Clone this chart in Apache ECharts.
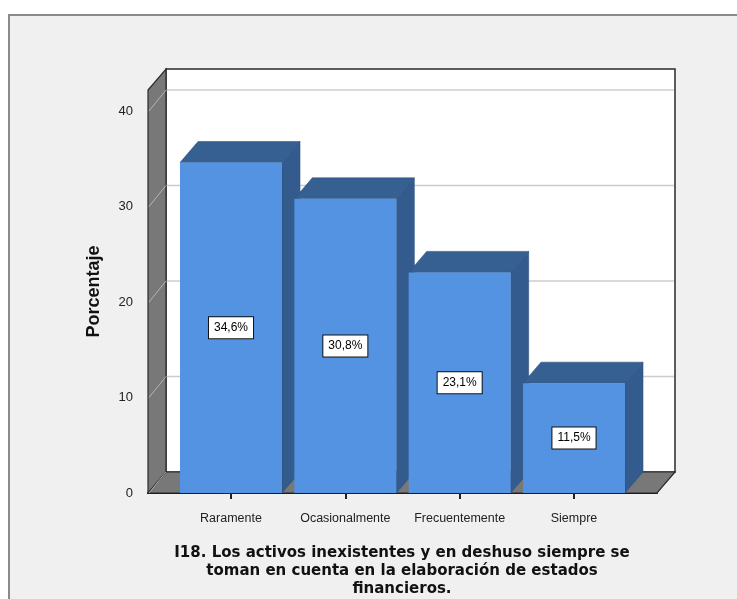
<!DOCTYPE html>
<html>
<head>
<meta charset="utf-8">
<script src="https://cdn.jsdelivr.net/npm/echarts@6/dist/echarts.min.js"></script>
<style>
  html, body { margin: 0; padding: 0; background: #ffffff; }
  #chart { width: 737px; height: 599px; }
</style>
</head>
<body>
<div id="chart"></div>
<script>
// Chart content
const categories = ['Raramente', 'Ocasionalmente', 'Frecuentemente', 'Siempre'];
const percentages = [34.6, 30.8, 23.1, 11.5];
const yTicks = [0, 10, 20, 30, 40];
const yName = 'Porcentaje';
const titleText = 'I18. Los activos inexistentes y en deshuso siempre se\ntoman en cuenta en la elaboración de estados\nfinancieros.';

// Layout / style constants
const X_MIN = -0.726, X_MAX = 3.726, Y_MAX = 42.2;
const DEPTH = [18, -21];          // oblique depth offset in pixels
const BAR_HALF = 0.446;           // half bar width in category units
const FRONT = '#5393e2', TOP = '#365f92', SIDE = '#335b8d';
const WALL = '#787878';
const SANS = '"Liberation Sans", Arial, sans-serif';

const shift = pt => [pt[0] + DEPTH[0], pt[1] + DEPTH[1]];
const fmt = v => v.toFixed(1).replace('.', ',') + '%';

function renderFrame(params, api) {
  const p = (x, y) => api.coord([x, y]);
  const fl = p(X_MIN, 0), fr = p(X_MAX, 0), tl = p(X_MIN, Y_MAX);
  const btl = shift(tl), bbr = shift(fr);
  const children = [];
  // back wall
  children.push({ type: 'rect',
    shape: { x: btl[0], y: btl[1], width: bbr[0] - btl[0], height: bbr[1] - btl[1] },
    style: { fill: '#ffffff', stroke: '#2a2a2a', lineWidth: 1.5 } });
  // grid lines on the back wall
  yTicks.filter(v => v > 0).forEach(v => {
    const a = shift(p(X_MIN, v)), b = shift(p(X_MAX, v));
    children.push({ type: 'line', shape: { x1: a[0], y1: a[1], x2: b[0] - 1, y2: b[1] },
      style: { stroke: '#cccccc', lineWidth: 1.5 } });
  });
  // floor
  children.push({ type: 'polygon', shape: { points: [fl, fr, shift(fr), shift(fl)] },
    style: { fill: WALL, stroke: '#2a2a2a', lineWidth: 1.2 } });
  // left wall
  children.push({ type: 'polygon', shape: { points: [fl, tl, shift(tl), shift(fl)] },
    style: { fill: WALL, stroke: '#2a2a2a', lineWidth: 1.2 } });
  // tick diagonals across the left wall
  yTicks.forEach(v => {
    const a = p(X_MIN, v), b = shift(a);
    children.push({ type: 'line', shape: { x1: a[0] + 1, y1: a[1], x2: b[0], y2: b[1] },
      style: { stroke: '#b4b4b4', lineWidth: 1 } });
  });
  return { type: 'group', children };
}

function renderBar(params, api) {
  const i = api.value(0), v = api.value(1);
  const bl = api.coord([i - BAR_HALF, 0]);
  const tr = api.coord([i + BAR_HALF, v]);
  const tl = [bl[0], tr[1]], br = [tr[0], bl[1]];
  const cx = (bl[0] + tr[0]) / 2, cy = (bl[1] + tr[1]) / 2;
  return { type: 'group', children: [
    { type: 'polygon', shape: { points: [br, tr, shift(tr), shift(br)] },
      style: { fill: SIDE, stroke: '#2d5282', lineWidth: 0.6 } },
    { type: 'polygon', shape: { points: [tl, tr, shift(tr), shift(tl)] },
      style: { fill: TOP, stroke: '#2d5282', lineWidth: 0.6 } },
    { type: 'rect', shape: { x: bl[0], y: tr[1], width: tr[0] - bl[0], height: bl[1] - tr[1] },
      style: { fill: FRONT } },
    { type: 'text', x: cx, y: cy,
      style: { text: fmt(v), fill: '#000', font: '12px ' + SANS,
        align: 'center', verticalAlign: 'middle', backgroundColor: '#ffffff',
        borderColor: '#111', borderWidth: 1, padding: [4, 5], lineHeight: 13 } }
  ] };
}

const chart = echarts.init(document.getElementById('chart'), null, { renderer: 'canvas' });
chart.setOption({
  animation: false,
  backgroundColor: '#ffffff',
  graphic: [{
    type: 'rect', z: -10, silent: true,
    shape: { x: 9, y: 15, width: 740, height: 600 },
    style: { fill: '#f0f0f0', stroke: '#8a8a8a', lineWidth: 2 }
  }],
  title: {
    text: titleText, left: 402, top: 544, textAlign: 'center', padding: 0,
    textStyle: { fontFamily: '"DejaVu Sans", Verdana, sans-serif', fontWeight: 'bold',
      fontSize: 15, lineHeight: 18, color: '#111' }
  },
  grid: { left: 148, top: 90, right: 80, bottom: 106 },
  xAxis: {
    type: 'value', min: X_MIN, max: X_MAX,
    splitLine: { show: false },
    axisLine: { show: true, onZero: false, lineStyle: { color: '#111', width: 2 } },
    axisTick: { show: true, customValues: categories.map((c, i) => i), length: 6,
      lineStyle: { color: '#222', width: 2 } },
    axisLabel: { customValues: categories.map((c, i) => i), formatter: v => categories[Math.round(v)],
      margin: 19, fontSize: 12.5, color: '#222', fontFamily: SANS }
  },
  yAxis: {
    type: 'value', min: 0, max: Y_MAX, interval: 10,
    name: yName, nameLocation: 'middle', nameGap: 45,
    nameTextStyle: { fontSize: 18, fontWeight: 'bold', color: '#111', fontFamily: SANS },
    splitLine: { show: false },
    axisLine: { show: true, lineStyle: { color: '#111', width: 1.5 } },
    axisTick: { show: true, length: 8, lineStyle: { color: '#222', width: 2 } },
    axisLabel: { margin: 15, fontSize: 13, color: '#222', fontFamily: SANS,
      padding: [4, 0, 0, 0], customValues: yTicks }
  },
  series: [
    { type: 'custom', renderItem: renderFrame, data: [[0, 0]], z: 1, silent: true },
    { type: 'custom', renderItem: renderBar, z: 3,
      data: percentages.map((v, i) => [i, v]) }
  ]
});
</script>
</body>
</html>
